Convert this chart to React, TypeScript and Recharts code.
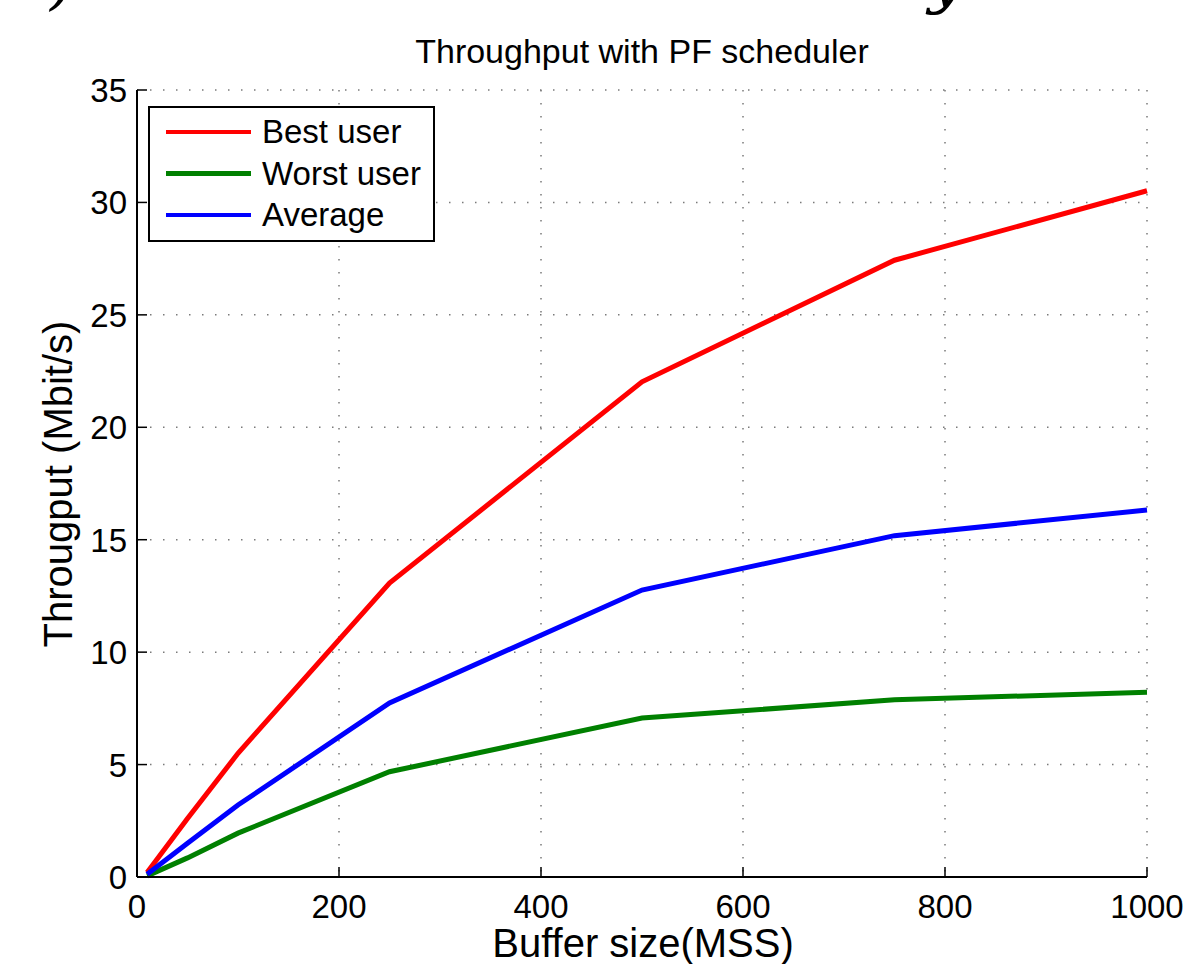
import { LineChart, Line, XAxis, YAxis, CartesianGrid, Legend } from 'recharts'

const bufferSizes = [10, 50, 100, 250, 500, 750, 1000]
const bestUser = [0.2, 2.6, 5.5, 13.07, 22.02, 27.43, 30.52]
const worstUser = [0.05, 0.85, 1.95, 4.68, 7.07, 7.88, 8.22]
const average = [0.12, 1.5, 3.2, 7.74, 12.76, 15.18, 16.32]

const seriesNames = ['Best user', 'Worst user', 'Average']
const xTicks = [0, 200, 400, 600, 800, 1000]
const yTicks = [0, 5, 10, 15, 20, 25, 30, 35]

const data = bufferSizes.map((b, i) => ({
  buffer: b,
  best: bestUser[i],
  worst: worstUser[i],
  avg: average[i],
}))

const FONT = "'Liberation Sans', Arial, Helvetica, sans-serif"
const TICK_LEN = 10

function XTick(props: any) {
  const { x, y, payload, side } = props
  if (side === 'top') {
    return <line x1={x} y1={y} x2={x} y2={y + TICK_LEN} stroke="#000" strokeWidth={1.5} />
  }
  return (
    <g>
      <line x1={x} y1={y} x2={x} y2={y - TICK_LEN} stroke="#000" strokeWidth={1.5} />
      <text x={x} y={y + 41} textAnchor="middle" fontSize={33} fontFamily={FONT} fill="#000">
        {payload.value}
      </text>
    </g>
  )
}

function YTick(props: any) {
  const { x, y, payload, side } = props
  if (side === 'right') {
    return <line x1={x} y1={y} x2={x - TICK_LEN} y2={y} stroke="#000" strokeWidth={1.5} />
  }
  return (
    <g>
      <line x1={x} y1={y} x2={x + TICK_LEN} y2={y} stroke="#000" strokeWidth={1.5} />
      <text x={x - 10} y={y + 12} textAnchor="end" fontSize={33} fontFamily={FONT} fill="#000">
        {payload.value}
      </text>
    </g>
  )
}

function LegendBox(props: any) {
  const items = [...(props.payload || [])].sort(
    (a: any, b: any) => seriesNames.indexOf(a.value) - seriesNames.indexOf(b.value)
  )
  return (
    <div
      style={{
        background: '#fff',
        border: '2px solid #000',
        padding: '3px 12px 4px 16px',
        fontFamily: FONT,
        fontSize: 33,
        lineHeight: '41.5px',
        whiteSpace: 'nowrap',
      }}
    >
      {items.map((p: any) => (
        <div key={p.value} style={{ display: 'flex', alignItems: 'center' }}>
          <span style={{ display: 'inline-block', width: 85, height: 4.5, background: p.color, marginRight: 11 }} />
          <span>{p.value}</span>
        </div>
      ))}
    </div>
  )
}

export default function App() {
  return (
    <div style={{ position: 'absolute', left: 0, top: 0, width: 1183, height: 964, background: '#fff', overflow: 'hidden' }}>
      <LineChart width={1183} height={964} data={data} margin={{ top: 90, right: 36, bottom: 0, left: 0 }}>
        <CartesianGrid stroke="#7a7a7a" strokeWidth={1.5} strokeDasharray="1.5 11.5" />
        <XAxis
          dataKey="buffer"
          type="number"
          domain={[0, 1000]}
          ticks={xTicks}
          height={87}
          tickSize={0}
          tickMargin={0}
          tickLine={false}
          axisLine={{ stroke: '#000', strokeWidth: 2 }}
          tick={<XTick side="bottom" />}
        />
        <XAxis
          xAxisId="top"
          orientation="top"
          dataKey="buffer"
          type="number"
          domain={[0, 1000]}
          ticks={xTicks}
          height={0}
          tickSize={0}
          tickMargin={0}
          tickLine={false}
          axisLine={{ stroke: '#000', strokeWidth: 2 }}
          tick={<XTick side="top" />}
        />
        <YAxis
          type="number"
          domain={[0, 35]}
          ticks={yTicks}
          width={137}
          tickSize={0}
          tickMargin={0}
          tickLine={false}
          axisLine={{ stroke: '#000', strokeWidth: 2 }}
          tick={<YTick side="left" />}
        />
        <YAxis
          yAxisId="right"
          orientation="right"
          type="number"
          domain={[0, 35]}
          ticks={yTicks}
          width={0}
          tickSize={0}
          tickMargin={0}
          tickLine={false}
          axisLine={{ stroke: '#000', strokeWidth: 2 }}
          tick={<YTick side="right" />}
        />
        <Legend
          layout="vertical"
          align="center"
          verticalAlign="middle"
          content={<LegendBox />}
          wrapperStyle={{ top: 106, left: 148, width: 'auto', height: 'auto' }}
        />
        <Line type="linear" dataKey="best" name={seriesNames[0]} stroke="#ff0000" strokeWidth={5} dot={false} isAnimationActive={false} />
        <Line type="linear" dataKey="worst" name={seriesNames[1]} stroke="#008000" strokeWidth={5} dot={false} isAnimationActive={false} />
        <Line type="linear" dataKey="avg" name={seriesNames[2]} stroke="#0000ff" strokeWidth={5} dot={false} isAnimationActive={false} />
      </LineChart>
      <svg width={1183} height={964} style={{ position: 'absolute', left: 0, top: 0, pointerEvents: 'none' }}>
        <text x={50} y={2} fontSize={64} fontStyle="italic" fontFamily="'DejaVu Serif', serif" fill="#000">)</text>
        <text x={928} y={1} fontSize={64} fontStyle="italic" fontFamily="'DejaVu Serif', serif" fill="#000">y</text>
        <text x={642} y={63} textAnchor="middle" fontSize={34} fontFamily={FONT} fill="#000">
          Throughput with PF scheduler
        </text>
        <text x={643} y={957} textAnchor="middle" fontSize={40} fontFamily={FONT} fill="#000">
          Buffer size(MSS)
        </text>
        <text x={72} y={484} textAnchor="middle" fontSize={40} fontFamily={FONT} fill="#000" transform="rotate(-90 72 484)">
          Througput (Mbit/s)
        </text>
      </svg>
    </div>
  )
}
